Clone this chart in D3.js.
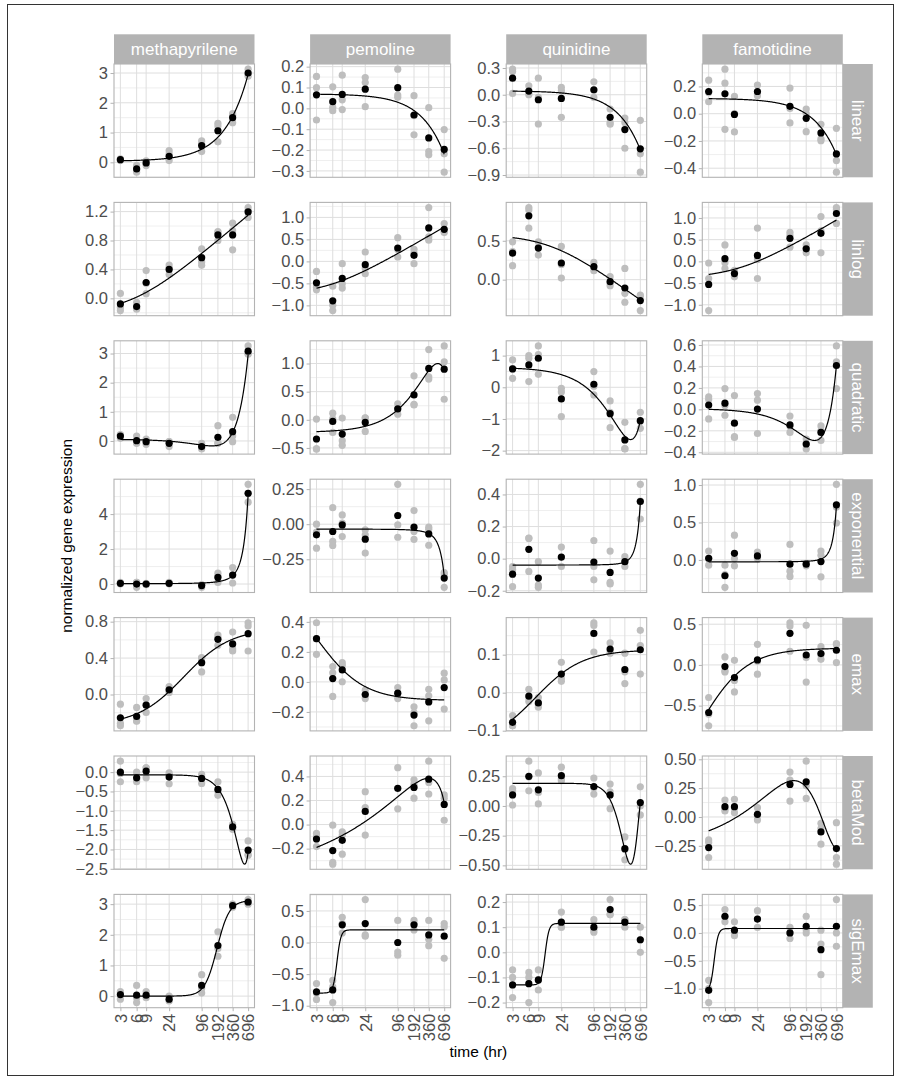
<!DOCTYPE html>
<html>
<head>
<meta charset="utf-8">
<script src="https://cdn.jsdelivr.net/npm/d3@7"></script>
<style>
  body { margin: 0; background: #ffffff; }
  svg { display: block; }
  text { font-family: "Liberation Sans", Arial, Helvetica, sans-serif; }
</style>
</head>
<body>
<svg id="chart" width="903" height="1080"></svg>
<script>
// ---- sampling times (hr) and facet labels ----
const times = [3, 6, 9, 24, 96, 192, 360, 696];
const drugs = ["methapyrilene", "pemoline", "quinidine", "famotidine"];
const models = ["linear", "linlog", "quadratic", "exponential", "emax", "betaMod", "sigEmax"];

// ---- linear ----
const linearMeans = [
  [0.09, -0.22, -0.02, 0.20, 0.56, 1.06, 1.50, 3.00],
  [0.065, 0.032, 0.067, 0.092, 0.099, -0.032, -0.142, -0.197],
  [0.186, 0.041, -0.056, -0.041, 0.056, -0.253, -0.391, -0.607],
  [0.163, 0.146, -0.005, 0.163, 0.054, -0.034, -0.141, -0.295]
];
const linearReps = [
  [[0.10, 0.06, 0.12], [-0.33, -0.25, -0.10], [-0.11, 0.05, -0.03], [0.39, 0.28, 0.06], [0.72, 0.61, 0.36], [1.31, 1.22, 0.69], [1.64, 1.58, 1.33], [3.13, 2.89, 2.95]],
  [[0.153, 0.099, -0.056], [0.103, 0.005, -0.011], [0.159, 0.041, -0.006], [0.148, 0.124, 0.008], [0.188, 0.064, 0.053], [0.061, -0.035, -0.127], [0.003, -0.207, -0.223], [-0.102, -0.218, -0.306]],
  [[0.287, 0.26, 0.015], [0.1, 0.0, 0.02], [0.186, -0.328, -0.03], [0.082, 0.045, -0.253], [0.145, -0.03, 0.05], [-0.31, -0.33, -0.16], [-0.261, -0.31, -0.6], [-0.287, -0.663, -0.868]],
  [[0.246, 0.088, 0.155], [0.327, 0.224, -0.115], [0.127, -0.134, 0.0], [0.21, 0.132, 0.147], [0.188, 0.039, -0.068], [0.034, 0.0, -0.132], [-0.078, -0.185, -0.198], [-0.107, -0.344, -0.429]]
];
const linearFit = [[0.04, 0.00419], [0.069, -0.000415], [0.043, -0.00095], [0.112, -0.000592]];
const linearTicks = [[0, 1, 2, 3], [-0.3, -0.2, -0.1, 0, 0.1, 0.2], [-0.9, -0.6, -0.3, 0, 0.3], [-0.4, -0.2, 0, 0.2]];

// ---- linlog ----
const linlogMeans = [
  [-0.078, -0.114, 0.219, 0.40, 0.562, 0.877, 0.877, 1.196],
  [-0.487, -0.897, -0.388, -0.076, 0.304, 0.137, 0.76, 0.73],
  [0.342, 0.82, 0.406, 0.214, 0.167, -0.026, -0.107, -0.269],
  [-0.532, 0.061, -0.281, 0.137, 0.532, 0.289, 0.646, 1.103]
];
const linlogReps = [
  [[0.068, -0.128, -0.169], [-0.055, -0.137, -0.15], [0.384, 0.064, 0.21], [0.46, 0.42, 0.33], [0.685, 0.502, 0.457], [0.922, 0.8, 0.91], [1.04, 0.671, 0.936], [1.256, 1.119, 1.21]],
  [[-0.228, -0.586, -0.646], [-1.118, -0.563, -1.0], [-0.053, -0.51, -0.608], [0.213, -0.281, -0.16], [0.54, 0.1, 0.27], [0.274, -0.053, 0.19], [1.224, 0.555, 0.48], [0.86, 0.654, 0.68]],
  [[0.487, 0.18, 0.36], [0.927, 0.897, 0.662], [0.487, 0.316, 0.415], [0.427, 0.02, 0.195], [0.222, 0.115, 0.164], [0.038, -0.077, -0.04], [0.145, -0.175, -0.29], [-0.197, -0.397, -0.213]],
  [[-0.038, -0.395, -1.133], [0.38, -0.167, -0.03], [-0.205, -0.357, -0.281], [0.768, -0.395, 0.038], [0.669, 0.327, 0.6], [0.38, 0.198, 0.289], [1.034, 0.198, 0.706], [1.24, 0.875, 1.194]]
];
const linlogFit = [[-0.637, 0.2727, 5], [-1.256, 0.311, 5], [1.169, -0.2176, 15], [-1.103, 0.313, 10]];
const linlogTicks = [[0, 0.4, 0.8, 1.2], [-1, -0.5, 0, 0.5, 1], [0, 0.5], [-1, -0.5, 0, 0.5, 1]];

// ---- quadratic ----
const quadraticMeans = [
  [0.171, 0.011, -0.023, -0.08, -0.194, 0.125, 0.319, 3.08],
  [-0.341, -0.029, -0.253, -0.047, 0.194, 0.441, 0.912, 0.9],
  [0.579, 0.705, 0.916, -0.368, 0.095, -0.832, -1.663, -1.053],
  [0.04, 0.058, -0.129, 0.003, -0.145, -0.323, -0.215, 0.409]
];
const quadraticReps = [
  [[0.205, 0.09, 0.218], [0.17, -0.08, -0.057], [0.068, -0.114, -0.023], [-0.023, -0.194, -0.023], [-0.08, -0.274, -0.228], [0.525, -0.08, -0.07], [0.81, -0.023, 0.17], [3.26, 2.976, 3.0]],
  [[0.012, -0.518, -0.517], [0.118, -0.224, 0.019], [0.03, -0.371, -0.453], [0.03, -0.206, 0.035], [0.282, 0.1, 0.2], [0.782, 0.265, 0.276], [1.247, 0.765, 0.724], [1.312, 1.03, 0.365]],
  [[0.863, 0.284, 0.59], [1.0, 0.179, 0.916], [1.305, 0.41, 1.033], [-0.032, -0.926, -0.146], [0.495, -0.242, 0.032], [-0.432, -1.274, -0.79], [-1.105, -1.947, -1.937], [-0.789, -1.295, -1.075]],
  [[0.117, 0.092, -0.089], [0.194, -0.055, 0.035], [0.129, -0.255, -0.262], [0.148, 0.086, -0.225], [-0.062, -0.215, -0.158], [-0.277, -0.369, -0.323], [-0.154, -0.2, -0.29], [0.591, 0.194, 0.442]]
];
const quadraticFit = [[0.0592, -0.00308, 1.0413e-5], [-0.224, 0.004618, -4.357e-6], [0.6296, -0.009911, 1.0773e-5], [0.0064, -0.0021606, 3.937e-6]];
const quadraticTicks = [[0, 1, 2, 3], [-0.5, 0, 0.5, 1], [-2, -1, 0, 1], [-0.4, -0.2, 0, 0.2, 0.4, 0.6]];

// ---- exponential ----
const exponentialMeans = [
  [0.04, 0.0, 0.0, 0.04, -0.09, 0.38, 0.51, 5.19],
  [-0.076, -0.052, -0.005, -0.107, 0.062, -0.021, -0.069, -0.384],
  [-0.097, 0.058, -0.121, 0.01, -0.021, -0.086, -0.019, 0.356],
  [0.022, -0.211, 0.088, 0.053, -0.057, -0.057, -0.022, 0.736]
];
const exponentialReps = [
  [[0.09, 0.0, 0.03], [-0.19, 0.09, 0.1], [0.04, -0.04, 0.0], [0.09, 0.0, 0.03], [-0.19, -0.04, -0.04], [0.62, 0.09, 0.43], [0.94, 0.06, 0.53], [5.7, 4.68, 5.19]],
  [[0.0, -0.171, -0.057], [0.118, -0.123, -0.151], [0.066, -0.088, 0.007], [-0.04, -0.206, -0.075], [0.284, -0.005, -0.093], [0.097, -0.052, -0.108], [-0.021, -0.036, -0.15], [-0.344, -0.45, -0.358]],
  [[-0.049, -0.175, -0.067], [0.126, -0.08, 0.128], [-0.019, -0.165, -0.179], [0.072, -0.049, 0.007], [0.113, -0.049, -0.132], [0.047, -0.148, -0.158], [0.012, -0.049, -0.02], [0.463, 0.247, 0.358]],
  [[0.119, -0.07, 0.017], [-0.07, -0.366, -0.197], [0.33, 0.018, -0.079], [0.106, 0.018, 0.035], [0.207, -0.15, -0.22], [-0.044, -0.079, -0.048], [0.119, 0.062, -0.225], [1.009, 0.493, 0.706]]
];
const exponentialFit = [[0.02, 0.0422, 145], [-0.035, -0.003137, 148.7], [-0.04, 0.000826, 113], [-0.025, 0.00158, 113]];
const exponentialTicks = [[0, 2, 4], [-0.25, 0, 0.25], [-0.2, 0, 0.2, 0.4], [0, 0.5, 1]];

// ---- emax ----
const emaxMeans = [
  [-0.255, -0.241, -0.117, 0.051, 0.35, 0.606, 0.555, 0.668],
  [0.288, 0.022, 0.08, -0.084, -0.075, -0.221, -0.133, -0.038],
  [-0.078, -0.009, -0.027, 0.049, 0.156, 0.115, 0.061, 0.113],
  [-0.584, -0.02, -0.155, 0.061, 0.388, 0.122, 0.139, 0.18]
];
const emaxReps = [
  [[-0.106, -0.318, -0.343], [-0.142, -0.288, -0.293], [-0.044, -0.11, -0.197], [0.088, 0.022, 0.043], [0.405, 0.248, 0.397], [0.653, 0.54, 0.625], [0.686, 0.478, 0.501], [0.788, 0.752, 0.478]],
  [[0.394, 0.184, 0.286], [0.102, -0.097, 0.061], [0.128, 0.111, 0.001], [-0.055, -0.111, -0.086], [-0.038, -0.111, -0.076], [-0.166, -0.292, -0.205], [-0.049, -0.093, -0.259], [0.058, 0.013, -0.181]],
  [[-0.06, -0.087, -0.087], [0.009, -0.013, -0.023], [-0.013, -0.038, -0.03], [0.08, 0.037, 0.03], [0.184, 0.177, 0.107], [0.131, 0.104, 0.11], [0.104, 0.024, 0.055], [0.164, 0.124, 0.049]],
  [[-0.4, -0.747, -0.605], [0.098, -0.086, -0.072], [0.057, -0.331, -0.191], [0.253, -0.114, 0.044], [0.518, 0.478, 0.168], [0.486, 0.09, -0.21], [0.224, 0.069, 0.124], [0.261, 0.029, 0.25]]
];
const emaxFit = [[-0.336, 1.061, 45], [0.7035, -0.827, 3], [-0.1386, 0.2514, 8], [-1.683, 1.889, 2]];
const emaxTicks = [[0, 0.4, 0.8], [-0.2, 0, 0.2, 0.4], [-0.1, 0, 0.1], [-0.5, 0, 0.5]];

// ---- betaMod ----
const betaModMeans = [
  [0.0, -0.146, 0.026, -0.129, -0.163, -0.447, -1.418, -2.019],
  [-0.12, -0.216, -0.131, 0.109, 0.301, 0.309, 0.377, 0.167],
  [0.093, 0.249, 0.136, 0.255, 0.163, 0.093, -0.36, 0.028],
  [-0.265, 0.089, 0.089, 0.023, 0.282, 0.305, -0.13, -0.274]
];
const betaModReps = [
  [[0.284, -0.249, -0.035], [0.0, -0.249, -0.19], [0.112, -0.146, 0.112], [-0.017, -0.3, -0.07], [-0.06, -0.292, -0.137], [-0.249, -0.601, -0.49], [-1.349, -1.478, -1.427], [-1.78, -2.15, -2.13]],
  [[-0.074, -0.183, -0.103], [-0.005, -0.314, -0.329], [-0.06, -0.246, -0.087], [0.273, -0.087, 0.141], [0.473, 0.131, 0.299], [0.372, 0.336, 0.219], [0.527, 0.35, 0.254], [0.246, 0.219, 0.036]],
  [[0.147, 0.008, 0.127], [0.377, 0.127, 0.243], [0.278, 0.113, 0.017], [0.326, 0.212, 0.227], [0.235, 0.1, 0.154], [0.184, -0.023, 0.118], [-0.261, -0.453, -0.366], [0.161, -0.076, 0.0]],
  [[-0.199, -0.222, -0.352], [0.147, 0.052, 0.068], [0.153, 0.037, 0.077], [0.081, -0.026, 0.014], [0.389, 0.138, 0.32], [0.484, 0.161, 0.27], [-0.055, -0.236, -0.1], [-0.049, -0.352, -0.409]]
];
const betaModFit = [[-0.07, -2.31, 2.51, 0.983, 835.2], [-0.482, 0.867, 0.27, 0.365, 835.2], [0.19, -0.68, 3.67, 2.99, 835.2], [-0.2877, 0.6027, 0.47, 3.0, 835.2]];
const betaModTicks = [[-2.5, -2, -1.5, -1, -0.5, 0], [-0.2, 0, 0.2, 0.4], [-0.5, -0.25, 0, 0.25], [-0.25, 0, 0.25, 0.5]];

// ---- sigEmax ----
const sigEmaxMeans = [
  [0.05, 0.03, 0.03, -0.1, 0.35, 1.65, 2.95, 3.07],
  [-0.78, -0.75, 0.28, 0.3, 0.0, 0.28, 0.12, 0.1],
  [-0.13, -0.125, -0.11, 0.12, 0.1, 0.17, 0.12, 0.05],
  [-1.03, 0.3, 0.05, 0.25, 0.0, 0.12, -0.3, 0.12]
];
const sigEmaxReps = [
  [[0.15, -0.1, 0.1], [0.35, -0.05, -0.21], [0.15, -0.05, 0.0], [0.0, -0.15, -0.15], [0.7, 0.1, 0.25], [2.1, 1.3, 1.55], [3.0, 2.9, 2.95], [3.15, 3.0, 3.06]],
  [[-0.65, -0.9, -0.8], [-0.6, -0.95, -0.7], [0.4, 0.15, 0.3], [0.68, 0.1, 0.12], [0.35, -0.2, -0.15], [0.35, 0.2, 0.3], [0.35, 0.05, -0.05], [0.3, -0.25, 0.25]],
  [[-0.07, -0.18, -0.1], [-0.08, -0.2, -0.1], [-0.07, -0.15, -0.11], [0.16, 0.1, 0.1], [0.13, 0.08, 0.09], [0.21, 0.15, 0.15], [0.13, 0.1, 0.13], [0.1, 0.05, 0.0]],
  [[-0.85, -1.25, -1.0], [0.42, 0.2, 0.28], [0.2, -0.05, 0.0], [0.4, 0.1, 0.25], [0.1, -0.1, 0.0], [0.3, 0.0, 0.06], [0.05, -0.2, -0.75], [0.6, 0.0, -0.24]]
];
const sigEmaxFit = [[0.0, 3.12, 185, 3.8], [-0.8, 1.0, 7.2, 12], [-0.13, 0.245, 12, 12], [-1.05, 1.13, 3.8, 12]];
const sigEmaxTicks = [[0, 1, 2, 3], [-1, -0.5, 0, 0.5], [-0.2, -0.1, 0, 0.1, 0.2], [-1, -0.5, 0, 0.5]];

// ---- dose-response model shapes (DoseFinding parameterisations) ----
const modelFns = {
  linear: (t, p) => p[0] + p[1] * t,
  linlog: (t, p) => p[0] + p[1] * Math.log(t + p[2]),
  quadratic: (t, p) => p[0] + p[1] * t + p[2] * t * t,
  exponential: (t, p) => p[0] + p[1] * (Math.exp(t / p[2]) - 1),
  emax: (t, p) => p[0] + p[1] * t / (p[2] + t),
  betaMod: (t, p) => {
    const [e0, eMax, d1, d2, scal] = p;
    const B = Math.pow(d1 + d2, d1 + d2) / (Math.pow(d1, d1) * Math.pow(d2, d2));
    return e0 + eMax * B * Math.pow(t / scal, d1) * Math.pow(1 - t / scal, d2);
  },
  sigEmax: (t, p) => p[0] + p[1] * Math.pow(t, p[3]) / (Math.pow(p[2], p[3]) + Math.pow(t, p[3]))
};

const rows = [
  { means: linearMeans, reps: linearReps, fit: linearFit, ticks: linearTicks },
  { means: linlogMeans, reps: linlogReps, fit: linlogFit, ticks: linlogTicks },
  { means: quadraticMeans, reps: quadraticReps, fit: quadraticFit, ticks: quadraticTicks },
  { means: exponentialMeans, reps: exponentialReps, fit: exponentialFit, ticks: exponentialTicks },
  { means: emaxMeans, reps: emaxReps, fit: emaxFit, ticks: emaxTicks },
  { means: betaModMeans, reps: betaModReps, fit: betaModFit, ticks: betaModTicks },
  { means: sigEmaxMeans, reps: sigEmaxReps, fit: sigEmaxFit, ticks: sigEmaxTicks }
].map((r, i) => ({ ...r, model: models[i] }));

// ---- layout ----
const svg = d3.select("#chart");
const colX0 = 114, colStep = 196.1, panelW = 140.5;
const rowY0 = 64, rowStep = 138.4, panelH = 113.3;
const stripH = 29.7, stripW = 30;
const tickFont = "16.5px", stripFont = "17px", titleFont = "15.5px";
const greyPt = "#bebebe", gridCol = "#dedede", borderCol = "#b3b3b3", textCol = "#4d4d4d";

svg.append("rect").attr("width", 903).attr("height", 1080).attr("fill", "#fff");
svg.append("rect").attr("x", 7.5).attr("y", 4.5).attr("width", 886).attr("height", 1071)
  .attr("fill", "none").attr("stroke", "#333").attr("stroke-width", 1);

// shared log-time scale domain with 5% expansion on the log axis
const lo = Math.log(times[0]), hi = Math.log(times[times.length - 1]);
const pad = 0.05 * (hi - lo);
const xDomain = [Math.exp(lo - pad), Math.exp(hi + pad)];
const tCurve = d3.range(300).map(i => Math.exp(lo + i * (hi - lo) / 299));

function decimalsFor(ticks) {
  let d = 0;
  while (d < 4 && ticks.some(v => Math.abs(Math.round(v * 10 ** d) - v * 10 ** d) > 1e-6)) d++;
  return d;
}

rows.forEach((row, r) => {
  drugs.forEach((drug, c) => {
    const x0 = colX0 + c * colStep, y0 = rowY0 + r * rowStep;
    const g = svg.append("g");
    const fn = modelFns[row.model];
    const p = row.fit[c];
    const curve = tCurve.map(t => [t, fn(t, p)]);
    const means = row.means[c];
    const reps = row.reps[c];

    const allY = [...means, ...reps.flat(), ...curve.map(d => d[1])];
    const [ymin, ymax] = d3.extent(allY);
    const yp = 0.05 * (ymax - ymin);
    const x = d3.scaleLog().domain(xDomain).range([x0, x0 + panelW]);
    const y = d3.scaleLinear().domain([ymin - yp, ymax + yp]).range([y0 + panelH, y0]);

    // grid
    const ticks = row.ticks[c];
    const step = ticks[1] - ticks[0];
    const minors = [ticks[0] - step / 2, ...ticks.map(v => v + step / 2)]
      .filter(v => v > y.domain()[0] && v < y.domain()[1]);
    g.selectAll(".minor").data(minors).join("line")
      .attr("x1", x0).attr("x2", x0 + panelW)
      .attr("y1", d => y(d)).attr("y2", d => y(d))
      .attr("stroke", gridCol).attr("stroke-width", 0.5);
    g.selectAll(".majorY").data(ticks).join("line")
      .attr("x1", x0).attr("x2", x0 + panelW)
      .attr("y1", d => y(d)).attr("y2", d => y(d))
      .attr("stroke", gridCol).attr("stroke-width", 1);
    g.selectAll(".majorX").data(times).join("line")
      .attr("x1", d => x(d)).attr("x2", d => x(d))
      .attr("y1", y0).attr("y2", y0 + panelH)
      .attr("stroke", gridCol).attr("stroke-width", 1);

    // replicate measurements
    const repPts = [];
    reps.forEach((vals, i) => vals.forEach(v => repPts.push([times[i], v])));
    g.selectAll(".rep").data(repPts).join("circle")
      .attr("cx", d => x(d[0])).attr("cy", d => y(d[1])).attr("r", 3.6)
      .attr("fill", greyPt);

    // fitted model curve
    g.append("path").datum(curve)
      .attr("d", d3.line().x(d => x(d[0])).y(d => y(d[1])))
      .attr("fill", "none").attr("stroke", "#000").attr("stroke-width", 1.2);

    // mean per time point
    g.selectAll(".mean").data(means).join("circle")
      .attr("cx", (d, i) => x(times[i])).attr("cy", d => y(d)).attr("r", 3.6)
      .attr("fill", "#000");

    // panel border
    g.append("rect").attr("x", x0).attr("y", y0).attr("width", panelW).attr("height", panelH)
      .attr("fill", "none").attr("stroke", borderCol).attr("stroke-width", 1.1);

    // y axis
    const fmt = d3.format(`.${decimalsFor(ticks)}f`);
    const ya = g.append("g").attr("transform", `translate(${x0},0)`)
      .call(d3.axisLeft(y).tickValues(ticks).tickFormat(fmt).tickSize(3.5).tickPadding(2.5));
    ya.select(".domain").remove();
    ya.selectAll(".tick line").attr("stroke", borderCol);
    ya.selectAll(".tick text").attr("fill", textCol).style("font-size", tickFont)
      .style("font-family", '"Liberation Sans", Arial, sans-serif');

    // x axis on the bottom row
    if (r === rows.length - 1) {
      const xa = g.append("g").attr("transform", `translate(0,${y0 + panelH})`)
        .call(d3.axisBottom(x).tickValues(times).tickFormat(d3.format("d")).tickSize(3.5));
      xa.select(".domain").remove();
      xa.selectAll(".tick line").attr("stroke", borderCol);
      xa.selectAll(".tick text")
        .attr("transform", "rotate(-90)")
        .attr("x", -6).attr("y", 0).attr("dy", "0.35em")
        .attr("text-anchor", "end")
        .attr("fill", textCol).style("font-size", tickFont)
        .style("font-family", '"Liberation Sans", Arial, sans-serif');
    }

    // column strip on the top row
    if (r === 0) {
      g.append("rect").attr("x", x0).attr("y", y0 - stripH).attr("width", panelW).attr("height", stripH)
        .attr("fill", borderCol);
      g.append("text").attr("x", x0 + panelW / 2).attr("y", y0 - stripH / 2).attr("dy", "0.36em")
        .attr("text-anchor", "middle").attr("fill", "#fff").style("font-size", stripFont)
        .text(drug);
    }
    // row strip on the right column
    if (c === drugs.length - 1) {
      const sx = x0 + panelW;
      g.append("rect").attr("x", sx).attr("y", y0).attr("width", stripW).attr("height", panelH)
        .attr("fill", borderCol);
      g.append("text")
        .attr("transform", `translate(${sx + stripW / 2},${y0 + panelH / 2}) rotate(90)`)
        .attr("dy", "0.36em").attr("text-anchor", "middle").attr("fill", "#fff")
        .style("font-size", stripFont).text(row.model);
    }
  });
});

// axis titles
const gridBottom = rowY0 + (rows.length - 1) * rowStep + panelH;
svg.append("text")
  .attr("x", colX0 + (3 * colStep + panelW + stripW) / 2 - 15)
  .attr("y", 1052).attr("dy", "0.35em").attr("text-anchor", "middle")
  .attr("fill", "#000").style("font-size", titleFont).text("time (hr)");
svg.append("text")
  .attr("transform", `translate(67,${(rowY0 + gridBottom) / 2}) rotate(-90)`)
  .attr("dy", "0.35em").attr("text-anchor", "middle")
  .attr("fill", "#000").style("font-size", titleFont).text("normalized gene expression");
</script>
</body>
</html>
